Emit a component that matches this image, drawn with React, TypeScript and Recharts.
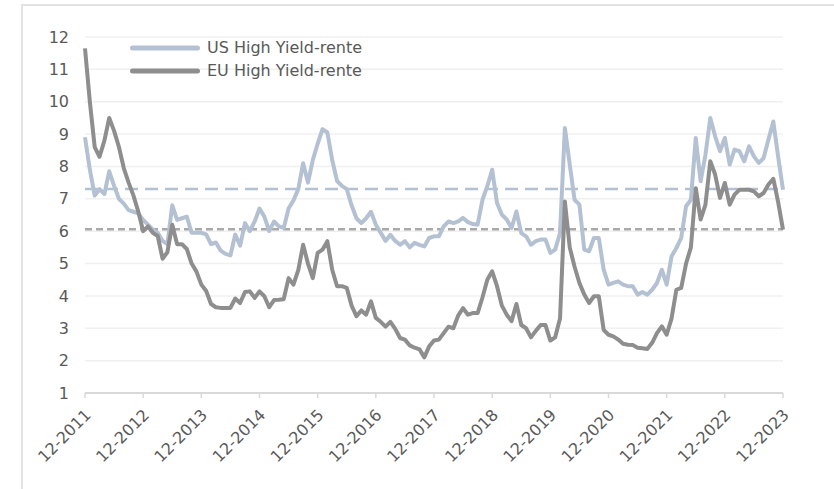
import { LineChart, Line, XAxis, YAxis, CartesianGrid, ReferenceLine } from "recharts";

const US_COLOR = "#b4c1d3";
const EU_COLOR = "#8e8e8e";
const TEXT_COLOR = "#595959";
const GRID_STROKE = "#f0f0f0";
const AXIS_STROKE = "#d9d9d9";
const FONT = "'DejaVu Sans', Verdana, sans-serif";
const FONT_SIZE = 16;

// månedlige etiketter fra 12-2011 til 12-2023
const months: string[] = [];
for (let m = 0; m <= 144; m++) {
  const mm = ((11 + m) % 12) + 1;
  const yy = 2011 + Math.floor((11 + m) / 12);
  months.push(`${String(mm).padStart(2, "0")}-${yy}`);
}

const usYield = [
  8.9, 7.9, 7.1, 7.3, 7.15, 7.85, 7.4, 7.0, 6.85, 6.65,
  6.6, 6.55, 6.35, 6.2, 6.05, 5.95, 5.7, 5.6, 6.8, 6.35,
  6.4, 6.45, 5.95, 5.95, 5.95, 5.9, 5.6, 5.65, 5.4, 5.3,
  5.25, 5.9, 5.55, 6.25, 6.0, 6.3, 6.7, 6.45, 6.0, 6.3,
  6.15, 6.1, 6.7, 6.95, 7.3, 8.1, 7.5, 8.2, 8.7, 9.15,
  9.05, 8.2, 7.55, 7.4, 7.3, 6.8, 6.4, 6.25, 6.4, 6.6,
  6.2, 5.95, 5.7, 5.89, 5.7, 5.58, 5.69, 5.5, 5.64, 5.58,
  5.53, 5.79, 5.84, 5.84, 6.15, 6.3, 6.25, 6.3, 6.41, 6.28,
  6.22, 6.2, 6.97, 7.39, 7.9, 6.87, 6.51, 6.36, 6.1, 6.61,
  5.94, 5.84, 5.58, 5.69, 5.74, 5.74, 5.33, 5.43, 5.94, 9.19,
  8.06, 6.97, 6.82, 5.43, 5.38, 5.79, 5.79, 4.81, 4.35, 4.4,
  4.45, 4.35, 4.3, 4.3, 4.04, 4.12, 4.04, 4.19, 4.4, 4.81,
  4.35, 5.22, 5.48, 5.79, 6.77, 6.97, 8.88, 7.54, 8.36, 9.5,
  8.93, 8.47, 8.88, 8.06, 8.52, 8.47, 8.16, 8.62, 8.31, 8.11,
  8.26, 8.83, 9.39, 8.3, 7.28,
];

const euYield = [
  11.65, 10.0, 8.6, 8.3, 8.8, 9.5, 9.1, 8.6, 7.95, 7.5,
  7.1, 6.6, 6.0, 6.15, 5.95, 5.85, 5.15, 5.35, 6.2, 5.6,
  5.6, 5.45, 5.0, 4.75, 4.35, 4.15, 3.75, 3.65, 3.63, 3.63,
  3.63, 3.92, 3.78, 4.12, 4.14, 3.94, 4.14, 3.99, 3.65, 3.87,
  3.88, 3.9, 4.55, 4.35, 4.8, 5.58, 5.0, 4.55, 5.33, 5.43,
  5.69, 4.81, 4.3, 4.3, 4.25, 3.7, 3.37, 3.55, 3.42, 3.83,
  3.32, 3.2, 3.05, 3.2, 2.98, 2.7, 2.65, 2.47, 2.4, 2.35,
  2.1, 2.44, 2.62, 2.65, 2.85, 3.05, 3.0, 3.4, 3.62, 3.42,
  3.47, 3.47, 3.95, 4.5, 4.76, 4.3, 3.7, 3.42, 3.22, 3.75,
  3.1, 3.0, 2.72, 2.92, 3.1, 3.1, 2.62, 2.72, 3.3, 6.92,
  5.5, 4.9, 4.4, 4.04, 3.78, 3.99, 3.99, 2.95, 2.8, 2.75,
  2.65, 2.52, 2.49, 2.48, 2.4, 2.38, 2.36, 2.55, 2.85, 3.06,
  2.8, 3.3, 4.19, 4.25, 5.0, 5.5, 7.33, 6.36, 6.82, 8.16,
  7.75, 7.03, 7.49, 6.82, 7.13, 7.28, 7.28, 7.28, 7.23, 7.08,
  7.18, 7.44, 7.62, 6.9, 6.05,
];

const usAverage = 7.3;
const euAverage = 6.06;
const yTicks = [1, 2, 3, 4, 5, 6, 7, 8, 9, 10, 11, 12];

const data = months.map((month, i) => ({
  month,
  us: usYield[i],
  eu: euYield[i],
}));

const legendItems = [
  { label: "US High Yield-rente", color: US_COLOR },
  { label: "EU High Yield-rente", color: EU_COLOR },
];

function XTick({ x, y, payload }: any) {
  const tx = x + 3;
  const ty = y + 12;
  return (
    <text
      x={tx}
      y={ty}
      dy="0.35em"
      textAnchor="end"
      transform={`rotate(-45, ${tx}, ${ty})`}
      fill={TEXT_COLOR}
      fontSize={FONT_SIZE}
      fontFamily={FONT}
    >
      {payload.value}
    </text>
  );
}

function ChartLegend() {
  return (
    <div style={{ position: "absolute", left: 128, top: 36 }}>
      {legendItems.map((item) => (
        <div key={item.label} style={{ display: "flex", alignItems: "center", height: 23 }}>
          <svg width={79} height={10} style={{ display: "block" }}>
            <line x1={4.5} y1={5} x2={69.5} y2={5} stroke={item.color} strokeWidth={5} strokeLinecap="round" />
          </svg>
          <span style={{ color: TEXT_COLOR, fontSize: FONT_SIZE, fontFamily: FONT, lineHeight: "23px" }}>
            {item.label}
          </span>
        </div>
      ))}
    </div>
  );
}

export default function App() {
  return (
    <div style={{ position: "absolute", left: 0, top: 0, width: 834, height: 489, background: "#fff", overflow: "hidden" }}>
      <div
        style={{
          position: "absolute",
          left: 21,
          top: 4,
          width: 900,
          height: 600,
          border: "2px solid #e2e2e2",
        }}
      />
      <LineChart
        width={834}
        height={489}
        data={data}
        margin={{ top: 37, right: 51, bottom: 66, left: 0 }}
        style={{ position: "absolute", left: 0, top: 0 }}
      >
        <CartesianGrid stroke={GRID_STROKE} strokeWidth={1.5} vertical={false} />
        <XAxis
          dataKey="month"
          interval={11}
          height={30}
          tick={<XTick />}
          tickSize={5}
          tickLine={{ stroke: AXIS_STROKE, strokeWidth: 1.5 }}
          axisLine={{ stroke: AXIS_STROKE, strokeWidth: 2 }}
        />
        <YAxis
          domain={[1, 12]}
          ticks={yTicks}
          width={85}
          tickSize={0}
          tickMargin={16}
          axisLine={false}
          tickLine={false}
          tick={{ fill: TEXT_COLOR, fontSize: FONT_SIZE, fontFamily: FONT }}
        />
        <ReferenceLine y={usAverage} stroke={US_COLOR} strokeWidth={2.5} strokeDasharray="13 7" />
        <ReferenceLine y={euAverage} stroke="#a9a9a9" strokeWidth={2.5} strokeDasharray="7 4" />
        <Line
          type="linear"
          dataKey="us"
          stroke={US_COLOR}
          strokeWidth={4}
          dot={false}
          strokeLinejoin="round"
          isAnimationActive={false}
        />
        <Line
          type="linear"
          dataKey="eu"
          stroke={EU_COLOR}
          strokeWidth={4}
          dot={false}
          strokeLinejoin="round"
          isAnimationActive={false}
        />
      </LineChart>
      <ChartLegend />
    </div>
  );
}
